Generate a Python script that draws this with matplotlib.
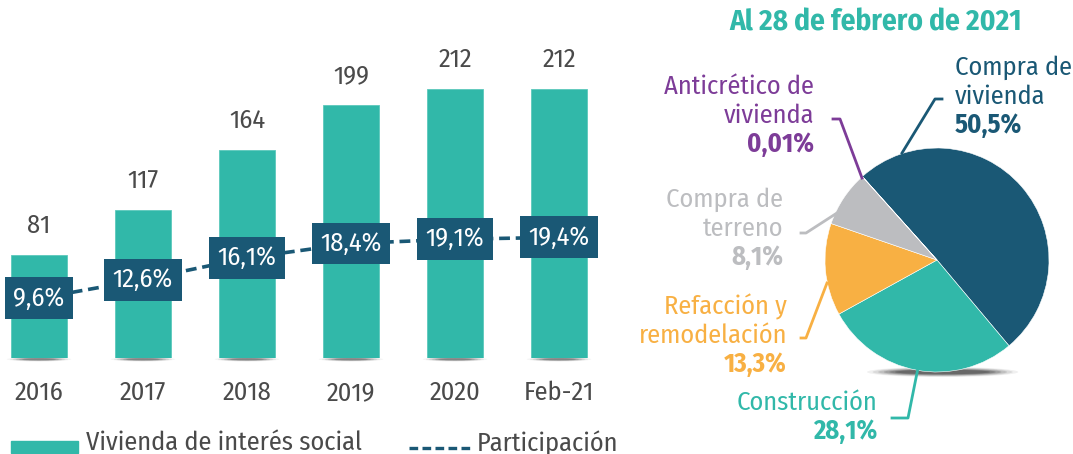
import numpy as np
import matplotlib.pyplot as plt
from matplotlib.patches import Ellipse, Rectangle

plt.rcParams['font.family'] = ['Fira Sans Condensed', 'Open Sans', 'DejaVu Sans']

# Data
years = ["2016", "2017", "2018", "2019", "2020", "Feb-21"]
vis = [81, 117, 164, 199, 212, 212]
part = [9.6, 12.6, 16.1, 18.4, 19.1, 19.4]
part_labels = ["9,6%", "12,6%", "16,1%", "18,4%", "19,1%", "19,4%"]

pie_names = ["Compra de\nvivienda", "Construcción", "Refacción y\nremodelación",
             "Compra de\nterreno", "Anticrético de\nvivienda"]
pie_vals = [50.5, 28.1, 13.3, 8.1, 0.01]
pie_pct = ["50,5%", "28,1%", "13,3%", "8,1%", "0,01%"]

TEAL = "#31b8a9"
NAVY = "#1a5875"
ORANGE = "#f8b043"
GRAY = "#bcbdc0"
PURPLE = "#7d3c98"
TXT = "#4a4a4a"
pie_colors = [NAVY, TEAL, ORANGE, GRAY, PURPLE]

FS = 19
LW = "normal"

W, H = 1073, 454
fig = plt.figure(figsize=(W / 100, H / 100), dpi=100)

# ---- bar chart ----
base_px, top_px = 358, 40
px_per_unit = (358 - 89) / 212.0
ax = fig.add_axes([0, (H - base_px) / H, 620 / W, (base_px - top_px) / H])
x = np.arange(len(years))
ax.set_xlim(-39 / 104, (620 - 39) / 104)
ax.set_ylim(0, (base_px - top_px) / px_per_unit)
ax.bar(x, vis, width=56 / 104, color=TEAL, edgecolor="#5cc9bc", linewidth=0.6, zorder=2)
ax.axis("off")

# soft shadow under each bar
for xi in x:
    for k in range(6):
        e = Ellipse((xi, -1.0), 0.62 - k * 0.06, 3.5 - k * 0.4, color="black",
                    alpha=0.04 + k * 0.025, lw=0, zorder=1, clip_on=False)
        ax.add_patch(e)

for xi, v in zip(x, vis):
    ax.text(xi, v + 23, str(v), ha="center", va="center", fontsize=FS, color=TXT,
            fontweight=LW)
for xi, y in zip(x, years):
    ax.text(xi, -35 / px_per_unit, y, ha="center", va="center", fontsize=FS,
            color=TXT, fontweight=LW, clip_on=False)

ax2 = ax.twinx()
ax2.set_ylim(0, (base_px - top_px) / 6.22)
ax2.axis("off")
ax2.plot(x, part, color=NAVY, lw=2.6, ls=(0, (3, 1.6)), zorder=3)
for xi, p, lab in zip(x, part, part_labels):
    ax2.text(xi, p, lab, ha="center", va="center", fontsize=FS, color="white", zorder=4,
             fontweight=LW, bbox=dict(boxstyle="square,pad=0.32", fc=NAVY, ec="none"))

# ---- pie chart ----
cx, cy, r = 937, 260, 112
lim = 1.1
axp = fig.add_axes([(cx - r * lim) / W, (H - cy - r * lim) / H, 2 * r * lim / W, 2 * r * lim / H])
for k in range(6):
    axp.add_patch(Ellipse((0.05, -1.0), 1.35 - k * 0.1, 0.09 - k * 0.01, color="black",
                          alpha=0.06 + k * 0.03, lw=0, zorder=0))
axp.pie(pie_vals, colors=pie_colors, startangle=131.8, counterclock=False,
        wedgeprops=dict(edgecolor="white", linewidth=0.4))
axp.set_xlim(-lim, lim)
axp.set_ylim(-lim, lim)
axp.set_aspect("equal")

# ---- overlay in pixel coordinates for annotations ----
ov = fig.add_axes([0, 0, 1, 1], zorder=5)
ov.set_xlim(0, W)
ov.set_ylim(H, 0)
ov.axis("off")

ov.text(876, 23, "Al 28 de febrero de 2021", ha="center", va="center", fontsize=21,
        fontweight="bold", color=TEAL)

# label anchor, alignment, leader line points
specs = [
    (955, 68, "left", [(942, 99), (935, 99), (902, 153)]),
    (877, 403, "right", [(892, 418), (908, 418), (918, 368)]),
    (787, 307, "right", [(801, 338), (806, 338), (827, 283)]),
    (783, 200, "right", [(801, 233), (806, 233), (837, 213)]),
    (814, 87, "right", [(833, 119), (840, 119), (862, 178)]),
]
for (tx, ty, ha, pts), name, pct, col in zip(specs, pie_names, pie_pct, pie_colors):
    lines = name.split("\n")
    for i, ln in enumerate(lines):
        ov.text(tx, ty + i * 28.5, ln, ha=ha, va="center", fontsize=FS, color=col,
                fontweight=LW)
    ov.text(tx, ty + len(lines) * 28.5, pct, ha=ha, va="center", fontsize=FS,
            fontweight="bold", color=col)
    ov.plot([p[0] for p in pts], [p[1] for p in pts], color=col, lw=2)

# legend
ov.add_patch(Rectangle((11, 441), 67, 12, color=TEAL))
ov.text(86, 443, "Vivienda de interés social", ha="left", va="center", fontsize=FS,
        color=TXT, fontweight=LW)
ov.plot([409, 472], [448, 448], color=NAVY, lw=2.4, ls=(0, (2.6, 1.3)))
ov.text(477, 443, "Participación", ha="left", va="center", fontsize=FS, color=TXT,
        fontweight=LW)

fig.savefig("out.png", dpi=100, facecolor="white")
